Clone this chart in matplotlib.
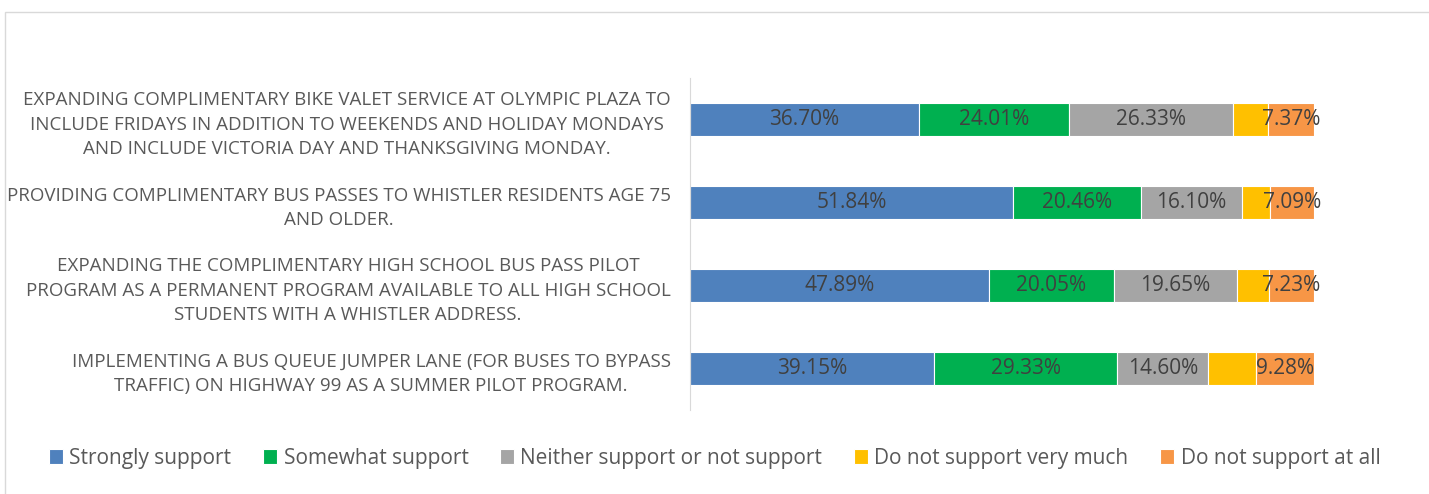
import matplotlib.pyplot as plt
import numpy as np

plt.rcParams['font.family'] = ['Open Sans', 'DejaVu Sans']

categories = [
    "EXPANDING COMPLIMENTARY BIKE VALET SERVICE AT OLYMPIC PLAZA TO\nINCLUDE FRIDAYS IN ADDITION TO WEEKENDS AND HOLIDAY MONDAYS\nAND INCLUDE VICTORIA DAY AND THANKSGIVING MONDAY.",
    "PROVIDING COMPLIMENTARY BUS PASSES TO WHISTLER RESIDENTS AGE 75\nAND OLDER.",
    "EXPANDING THE COMPLIMENTARY HIGH SCHOOL BUS PASS PILOT\nPROGRAM AS A PERMANENT PROGRAM AVAILABLE TO ALL HIGH SCHOOL\nSTUDENTS WITH A WHISTLER ADDRESS.",
    "IMPLEMENTING A BUS QUEUE JUMPER LANE (FOR BUSES TO BYPASS\nTRAFFIC) ON HIGHWAY 99 AS A SUMMER PILOT PROGRAM.",
]
series = ["Strongly support", "Somewhat support", "Neither support or not support",
          "Do not support very much", "Do not support at all"]
strongly = [36.70, 51.84, 47.89, 39.15]
somewhat = [24.01, 20.46, 20.05, 29.33]
neither = [26.33, 16.10, 19.65, 14.60]
not_much = [5.59, 4.51, 5.18, 7.64]
not_all = [7.37, 7.09, 7.23, 9.28]
show_label = [True, True, True, False, True]

colors = ['#4F81BD', '#00B050', '#A5A5A5', '#FFC000', '#F79646']
values = [strongly, somewhat, neither, not_much, not_all]

fig = plt.figure(figsize=(14.29, 4.94), dpi=100)
ax = fig.add_axes([690 / 1429, 1 - 410 / 494, (1314 - 690) / 1429, 332 / 494])

y = np.arange(len(categories))
left = np.zeros(len(categories))
for vals, col, name, lab in zip(values, colors, series, show_label):
    vals = np.array(vals)
    ax.barh(y, vals, left=left, height=0.4, color=col, edgecolor='white',
            linewidth=0.8, label=name)
    if lab:
        for yi, l, v in zip(y, left, vals):
            ax.text(l + v / 2, yi, f"{v:.2f}%", ha='center', va='center',
                    fontsize=15, color='#404040')
    left += vals

ax.set_xlim(0, 100)
ax.set_ylim(3.5, -0.5)
ax.set_yticks(y)
ax.set_yticklabels(categories, fontsize=13.5, color='#595959',
                   multialignment='center', linespacing=1.45)
ax.tick_params(axis='y', length=0, pad=14)
ax.set_xticks([])
for s in ['top', 'right', 'bottom']:
    ax.spines[s].set_visible(False)
ax.spines['left'].set_color('#D9D9D9')

handles, labels = ax.get_legend_handles_labels()
fig.legend(handles, labels, loc='center', bbox_to_anchor=(0.5, 1 - 458 / 494), ncol=5,
           frameon=False, fontsize=15, labelcolor='#595959', handlelength=0.7,
           handleheight=0.7, handletextpad=0.3, columnspacing=1.5)

# chart border
fig.patches.append(plt.Rectangle((5 / 1429, -0.1), 1.2, 1 - 12 / 494 + 0.1,
                                 transform=fig.transFigure, fill=False,
                                 edgecolor='#D9D9D9', linewidth=1))

fig.savefig('out.png', dpi=100)
